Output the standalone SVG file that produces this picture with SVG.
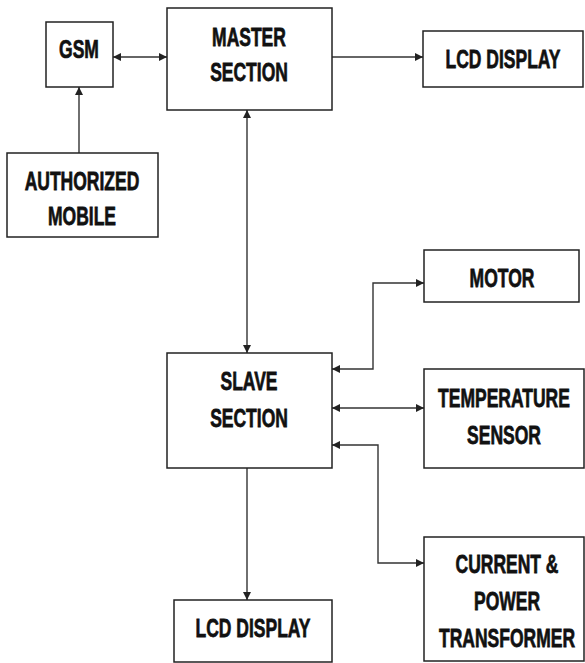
<svg xmlns="http://www.w3.org/2000/svg" width="585" height="663" viewBox="0 0 585 663">
<style>
.box{fill:#fff;stroke:#222;stroke-width:1.5}
.t{font-family:"Liberation Sans",Arial,sans-serif;font-weight:bold;font-size:17.5px;fill:#111;stroke:#111;stroke-width:0.5;text-anchor:middle}
.c{fill:none;stroke:#333;stroke-width:1.4;marker-end:url(#ah)}
.b{marker-start:url(#ah)}
</style>
<defs>
<marker id="ah" viewBox="0 0 10 10" refX="10" refY="5" markerWidth="9" markerHeight="8" markerUnits="userSpaceOnUse" orient="auto-start-reverse">
<path d="M0,0 L10,5 L0,10 z" fill="#222"/>
</marker>
</defs>
<rect width="585" height="663" fill="#fff"/>
<g id="connectors">
<path class="c b" d="M113,57 H167"/>
<path class="c" d="M332,57 H423"/>
<path class="c" d="M79,153 V87"/>
<path class="c b" d="M247,110 V353"/>
<path class="c b" d="M332,369 H373 V283 H424"/>
<path class="c b" d="M332,408 H424"/>
<path class="c b" d="M332,445 H378 V563 H424"/>
<path class="c" d="M247,468 V600"/>
</g>
<g id="gsm"><rect class="box" x="46" y="22" width="67" height="65"/>
<text class="t" transform="translate(79,58) scale(1,1.45)">GSM</text></g>
<g id="master"><rect class="box" x="167" y="8" width="165" height="102"/>
<text class="t" transform="translate(249,46) scale(1,1.5)">MASTER</text>
<text class="t" transform="translate(249,81) scale(1,1.5)">SECTION</text></g>
<g id="lcd1"><rect class="box" x="423" y="31" width="160" height="56"/>
<text class="t" transform="translate(503,68) scale(1,1.5)">LCD DISPLAY</text></g>
<g id="auth"><rect class="box" x="7" y="153" width="151" height="84"/>
<text class="t" transform="translate(82,190) scale(1,1.5)">AUTHORIZED</text>
<text class="t" transform="translate(82,225) scale(1,1.5)">MOBILE</text></g>
<g id="slave"><rect class="box" x="167" y="353" width="165" height="115"/>
<text class="t" transform="translate(249,390) scale(1,1.5)">SLAVE</text>
<text class="t" transform="translate(249,427) scale(1,1.5)">SECTION</text></g>
<g id="motor"><rect class="box" x="424" y="250" width="155" height="52"/>
<text class="t" transform="translate(502,287) scale(1,1.5)">MOTOR</text></g>
<g id="temp"><rect class="box" x="424" y="369" width="160" height="99"/>
<text class="t" transform="translate(504,407) scale(1,1.5)">TEMPERATURE</text>
<text class="t" transform="translate(504,444) scale(1,1.5)">SENSOR</text></g>
<g id="current"><rect class="box" x="424" y="537" width="160" height="124"/>
<text class="t" transform="translate(507,573) scale(1,1.5)">CURRENT &amp;</text>
<text class="t" transform="translate(507,610) scale(1,1.5)">POWER</text>
<text class="t" transform="translate(507,647) scale(1,1.5)">TRANSFORMER</text></g>
<g id="lcd2"><rect class="box" x="174" y="600" width="158" height="62"/>
<text class="t" transform="translate(253,637) scale(1,1.5)">LCD DISPLAY</text></g>
</svg>
